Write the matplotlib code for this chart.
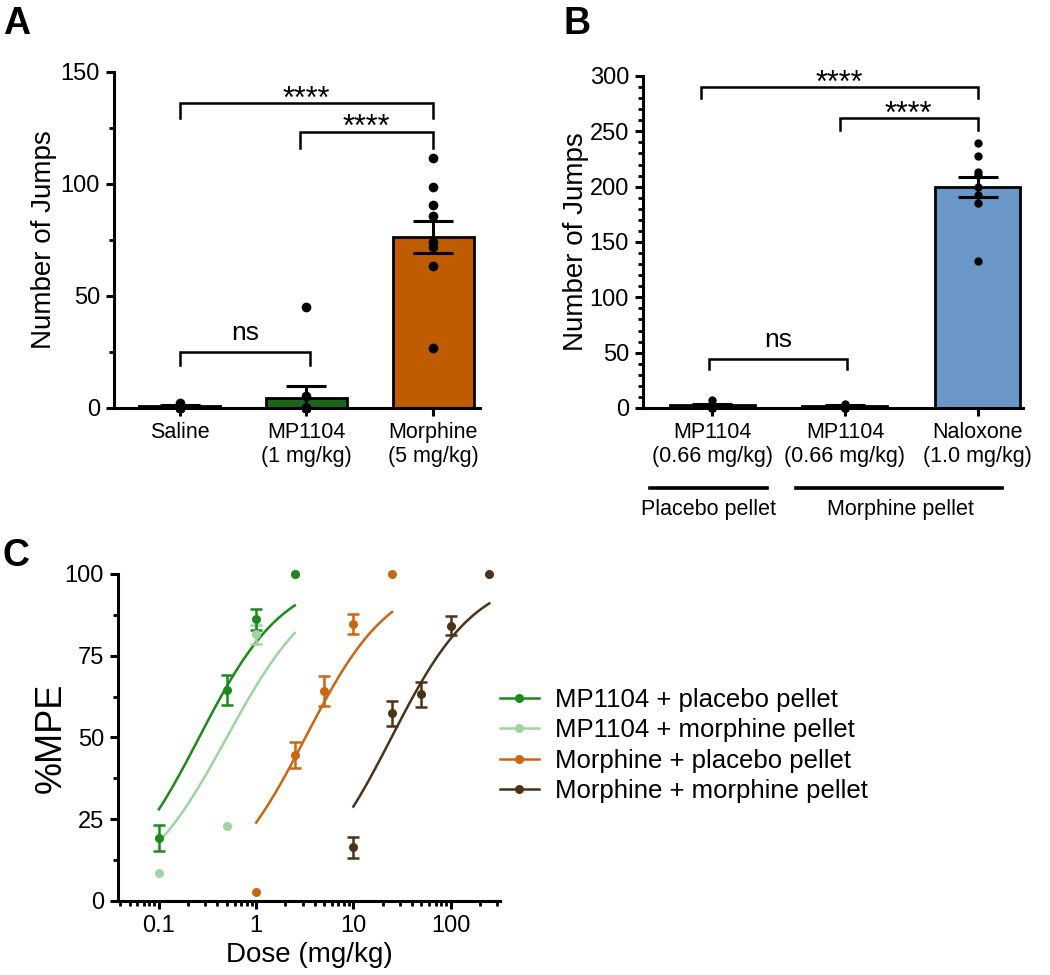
import numpy as np
import matplotlib
matplotlib.use('Agg')
import matplotlib.pyplot as plt
import matplotlib.transforms as mtransforms
from matplotlib.lines import Line2D
from matplotlib.ticker import MultipleLocator, LogLocator, FixedLocator, FuncFormatter, NullFormatter

plt.rcParams['font.family'] = ['Liberation Sans', 'DejaVu Sans']

# ---------------- data ----------------
# panel A
a_labels = ['Saline', 'MP1104\n(1 mg/kg)', 'Morphine\n(5 mg/kg)']
a_means = [0.8, 4.6, 76.5]
a_sems = [0.5, 5.2, 7.2]
a_saline = [2.2, 1.5, 0.5, 0, 0, 0, 0, 0]
a_mp1104 = [45, 5.5, 0, 0, 0, 0, 0, 0, 0, 0]
a_morphine = [111.7, 98.7, 90.6, 85.7, 74.2, 72.0, 63.5, 26.6]
a_colors = ['#1b651b', '#1b651b', '#c05c00']

# panel B
b_labels = ['MP1104\n(0.66 mg/kg)', 'MP1104\n(0.66 mg/kg)', 'Naloxone\n(1.0 mg/kg)']
b_means = [2.5, 1.5, 199.5]
b_sems = [1.2, 0.8, 9.0]
b_mp_placebo = [7, 4, 2, 1, 0, 0, 0, 0]
b_mp_morphine = [4, 2, 1, 0, 0, 0, 0, 0]
b_naloxone = [239.7, 227.7, 213.5, 210.5, 200, 192.5, 185, 132.8]
b_colors = ['#6a96c8', '#6a96c8', '#6a96c8']

# panel C  (dose, %MPE, SEM)
c_names = ['MP1104 + placebo pellet', 'MP1104 + morphine pellet',
           'Morphine + placebo pellet', 'Morphine + morphine pellet']
c_colors = ['#1a8a1a', '#9fd39f', '#cc6512', '#4a3318']
c_dose_mp_plac = [0.1, 0.5, 1, 2.5]
c_mpe_mp_plac = [19.1, 64.5, 86.1, 100]
c_sem_mp_plac = [4.0, 4.5, 3.2, 0]
c_dose_mp_morph = [0.1, 0.5, 1, 2.5]
c_mpe_mp_morph = [8.4, 23.0, 81.5, 100]
c_sem_mp_morph = [0, 0, 3.0, 0]
c_dose_mor_plac = [1, 2.5, 5, 10, 25]
c_mpe_mor_plac = [2.6, 44.6, 64.2, 84.7, 100]
c_sem_mor_plac = [0, 4.0, 4.6, 3.0, 0]
c_dose_mor_morph = [10, 25, 50, 100, 250]
c_mpe_mor_morph = [16.3, 57.4, 63.2, 84.2, 100]
c_sem_mor_morph = [3.2, 3.8, 3.8, 2.8, 0]
# fitted curve parameters (ED50 mg/kg, hill slope)
c_ed50 = [0.26, 0.5, 3.22, 24.7]
c_hill = [0.99, 0.94, 0.99, 1.0]

W, H = 1050, 975


def fbox(l, t, r, b):
    return [l / W, 1 - b / H, (r - l) / W, (b - t) / H]


def style(ax):
    for s in ['top', 'right']:
        ax.spines[s].set_visible(False)
    for s in ['left', 'bottom']:
        ax.spines[s].set_linewidth(2.2)
    ax.tick_params(which='major', direction='out', length=6, width=2.2, labelsize=17, pad=4)
    ax.tick_params(which='minor', direction='out', length=3.5, width=2.0)


def bracket(ax, x1, x2, y, leg, text):
    ax.plot([x1, x1, x2, x2], [y - leg, y, y, y - leg], color='black', lw=1.8,
            solid_joinstyle='miter', clip_on=False)
    if text.startswith('*'):
        off, fs = -3.4, 22
    else:
        off, fs = 8.5, 19
    ax.annotate(text, xy=((x1 + x2) / 2, y), xytext=(0, off), textcoords='offset points',
                ha='center', va='baseline', fontsize=fs)


def bar_panel(ax, means, sems, colors, pts, ms):
    x = np.arange(len(means))
    ax.bar(x, means, width=0.64, color=colors, edgecolor='black', linewidth=2, zorder=2)
    ax.errorbar(x, means, yerr=sems, fmt='none', ecolor='black', elinewidth=2.2,
                capsize=14.5, capthick=2.2, zorder=3)
    for i, p in enumerate(pts):
        ax.plot(np.full(len(p), i), p, 'o', color='black', ms=ms, mew=0,
                zorder=4, clip_on=False)


fig = plt.figure(figsize=(10.5, 9.75), dpi=100)

# ---------------- A ----------------
axA = fig.add_axes(fbox(114, 72, 480, 408))
bar_panel(axA, a_means, a_sems, a_colors, [a_saline, a_mp1104, a_morphine], 7)
style(axA)
axA.set_ylim(0, 150)
axA.set_xlim(-0.52, 2.37)
axA.yaxis.set_major_locator(MultipleLocator(50))
axA.yaxis.set_minor_locator(MultipleLocator(25))
axA.set_xticks(range(3))
axA.set_xticklabels(a_labels, fontsize=15.5)
axA.set_ylabel('Number of Jumps', fontsize=20)
axA.yaxis.set_label_coords(-0.155, 0.5)
bracket(axA, 0, 2, 136.3, 6.8, '****')
bracket(axA, 0.95, 2, 123.4, 7.4, '****')
bracket(axA, 0, 1.03, 25.1, 5.9, 'ns')

# ---------------- B ----------------
axB = fig.add_axes(fbox(643, 76, 1023, 408))
bar_panel(axB, b_means, b_sems, b_colors, [b_mp_placebo, b_mp_morphine, b_naloxone], 6)
style(axB)
axB.set_ylim(0, 300)
axB.set_xlim(-0.52, 2.34)
axB.yaxis.set_major_locator(MultipleLocator(50))
axB.yaxis.set_minor_locator(MultipleLocator(10))
axB.set_xticks(range(3))
axB.set_xticklabels(b_labels, fontsize=15.5)
axB.set_ylabel('Number of Jumps', fontsize=20)
axB.yaxis.set_label_coords(-0.142, 0.5)
bracket(axB, -0.08, 2, 289.8, 9.8, '****')
bracket(axB, 0.96, 2, 261.8, 10.8, '****')
bracket(axB, -0.02, 1.015, 44.3, 9.3, 'ns')

trB = mtransforms.blended_transform_factory(axB.transData, axB.transAxes)
axB.plot([-0.466, 0.414], [-0.241, -0.241], color='black', lw=2.6, transform=trB, clip_on=False)
axB.plot([0.63, 2.18], [-0.241, -0.241], color='black', lw=2.6, transform=trB, clip_on=False)
axB.text(-0.03, -0.307, 'Placebo pellet', transform=trB, ha='center', va='center', fontsize=15.5)
axB.text(1.42, -0.307, 'Morphine pellet', transform=trB, ha='center', va='center', fontsize=15.5)

# ---------------- C ----------------
axC = fig.add_axes(fbox(118, 574, 500, 900.7))
style(axC)
axC.set_xscale('log')
series = [
    (c_dose_mp_plac, c_mpe_mp_plac, c_sem_mp_plac),
    (c_dose_mp_morph, c_mpe_mp_morph, c_sem_mp_morph),
    (c_dose_mor_plac, c_mpe_mor_plac, c_sem_mor_plac),
    (c_dose_mor_morph, c_mpe_mor_morph, c_sem_mor_morph),
]
order = [1, 0, 2, 3]
for k in order:
    d, m, s = [np.asarray(v, float) for v in series[k]]
    col = c_colors[k]
    grid = np.logspace(np.log10(d.min()), np.log10(d.max()), 120)
    fit = 100.0 / (1.0 + (c_ed50[k] / grid) ** c_hill[k])
    axC.plot(grid, fit, color=col, lw=1.8, zorder=2)
    has = s > 0
    axC.errorbar(d[has], m[has], yerr=s[has], fmt='none', ecolor=col, elinewidth=1.8,
                 capsize=4, capthick=1.8, zorder=3)
    axC.plot(d, m, 'o', color=col, ms=6.5, mew=0, zorder=4, clip_on=False)

axC.set_xlim(0.038, 322)
axC.set_ylim(0, 100)
axC.yaxis.set_major_locator(MultipleLocator(25))
axC.yaxis.set_minor_locator(MultipleLocator(12.5))
axC.xaxis.set_major_locator(FixedLocator([0.1, 1, 10, 100]))
axC.xaxis.set_major_formatter(FuncFormatter(lambda v, _: f'{v:g}'))
axC.xaxis.set_minor_locator(LogLocator(base=10, subs=np.arange(2, 10)))
axC.xaxis.set_minor_formatter(NullFormatter())
axC.set_ylabel('%MPE', fontsize=26)
axC.yaxis.set_label_coords(-0.13, 0.5)
axC.set_xlabel('Dose (mg/kg)', fontsize=20)
axC.xaxis.set_label_coords(0.5, -0.125)

handles = [Line2D([], [], color=c, lw=1.8, marker='o', ms=6.5, mew=0) for c in c_colors]
fig.legend(handles, c_names, loc='upper left', bbox_to_anchor=(500 / W, 1 - 688 / H),
           frameon=False, fontsize=18.5, handlelength=1.5, handletextpad=0.65,
           labelspacing=0.25, borderpad=0, borderaxespad=0)

# panel letters
fig.text(3 / W, 1 - 6 / H, 'A', fontsize=27, fontweight='bold', ha='left', va='top')
fig.text(564 / W, 1 - 6 / H, 'B', fontsize=27, fontweight='bold', ha='left', va='top')
fig.text(3 / W, 1 - 538 / H, 'C', fontsize=27, fontweight='bold', ha='left', va='top')

fig.savefig('out.png', dpi=100)
